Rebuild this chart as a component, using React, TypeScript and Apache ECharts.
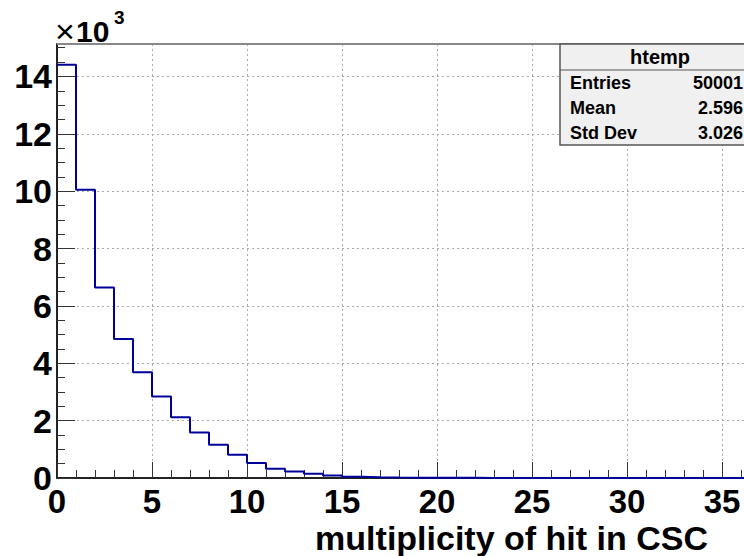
import React, { useEffect, useRef } from "react";
import * as echarts from "echarts";

// Bin contents of the multiplicity histogram (unit-wide bins starting at 0)
const counts = [
  14410, 10050, 6640, 4850, 3690, 2840, 2120, 1590, 1160, 810,
  520, 320, 230, 150, 90, 45, 22, 15, 12, 8,
  7, 5, 4, 4, 3, 2, 2, 2, 1, 1,
  0, 1, 0, 0, 0, 0, 1, 0, 0, 0,
];
const xMin = 0;
const xMax = 40;
const yMax = 15130;
const xTitle = "multiplicity of hit in CSC";
const statsName = "htemp";
const statsLabels = ["Entries", "Mean", "Std Dev"];
const statsValues = ["50001", "2.596", "3.026"];

const FONT = "Liberation Sans, Arial, Helvetica, sans-serif";

export default function App() {
  const ref = useRef<HTMLDivElement>(null);

  useEffect(() => {
    if (!ref.current) return;
    const chart = echarts.init(ref.current, null, { renderer: "svg" });

    // step outline: one point per bin low edge plus the closing edge
    const outline: number[][] = counts.map((c, i) => [xMin + i, c]);
    outline.push([xMin + counts.length, counts[counts.length - 1]]);

    const gridLeft = 57;
    const gridTop = 44;
    const gridW = 760;
    const gridH = 434;

    const rowY = [83, 108, 133];

    const txt = (
      x: number,
      y: number,
      text: string,
      size: number,
      weight: string,
      align: string,
      z: number
    ) => ({
      type: "text",
      x,
      y,
      z,
      style: {
        text,
        fontFamily: FONT,
        fontSize: size,
        fontWeight: weight,
        fill: "#000",
        align,
        verticalAlign: "middle",
      },
    });

    chart.setOption({
      animation: false,
      backgroundColor: "#ffffff",
      grid: { left: gridLeft, top: gridTop, width: gridW, height: gridH },
      xAxis: {
        type: "value",
        min: xMin,
        max: xMax,
        interval: 5,
        axisLine: { show: true, onZero: false, lineStyle: { color: "#222", width: 2 } },
        axisTick: { show: true, inside: true, length: 16, lineStyle: { color: "#333", width: 1 } },
        minorTick: { show: true, splitNumber: 5, length: 8, lineStyle: { color: "#333", width: 1 } },
        splitLine: { show: true, lineStyle: { color: "#aaa", type: [2, 3], width: 1 } },
        axisLabel: {
          margin: 7,
          color: "#000",
          fontFamily: FONT,
          fontWeight: "bold",
          fontSize: 33,
          showMaxLabel: false,
        },
      },
      yAxis: [
        {
          type: "value",
          min: 0,
          max: yMax,
          interval: 2000,
          axisLine: { show: true, lineStyle: { color: "#222", width: 2 } },
          axisTick: { show: true, inside: true, length: 18, lineStyle: { color: "#333", width: 1 } },
          splitLine: { show: true, lineStyle: { color: "#aaa", type: [2, 3], width: 1 } },
          axisLabel: {
            margin: 5,
            color: "#000",
            fontFamily: FONT,
            fontWeight: "bold",
            fontSize: 34,
            showMaxLabel: false,
            formatter: (v: number) => String(Math.round(v / 1000)),
          },
        },
        {
          type: "value",
          position: "left",
          offset: 0,
          min: 0,
          max: yMax,
          interval: 500,
          axisLine: { show: false },
          axisTick: { show: true, inside: true, length: 8, lineStyle: { color: "#333", width: 1 } },
          splitLine: { show: false },
          axisLabel: { show: false },
        },
      ],
      series: [
        {
          type: "line",
          data: outline,
          step: "end",
          symbol: "none",
          yAxisIndex: 0,
          lineStyle: { color: "#000099", width: 2 },
          z: 5,
        },
      ],
      graphic: [
        // top edge of the frame
        {
          type: "line",
          shape: { x1: gridLeft, y1: gridTop, x2: gridLeft + gridW, y2: gridTop },
          style: { stroke: "#888", lineWidth: 2 },
          z: 50,
        },
        // x10^3 exponent
        txt(55, 31, "\u00d7", 34, "normal", "left", 60),
        txt(76, 31, "10", 30, "bold", "left", 60),
        txt(114, 17, "3", 19, "bold", "left", 60),
        // axis title
        txt(708, 538, xTitle, 34, "bold", "right", 60),
        // statistics box
        {
          type: "rect",
          shape: { x: 560, y: 44, width: 204, height: 101 },
          style: { fill: "#f0f0f0", stroke: "#555", lineWidth: 1.5 },
          z: 100,
        },
        {
          type: "line",
          shape: { x1: 560, y1: 70, x2: 764, y2: 70 },
          style: { stroke: "#555", lineWidth: 1 },
          z: 101,
        },
        txt(660, 57, statsName, 20, "bold", "center", 102),
        ...statsLabels.map((label, i) => txt(570, rowY[i], label, 18, "bold", "left", 102)),
        ...statsValues.map((val, i) => txt(743, rowY[i], val, 18, "bold", "right", 102)),
      ],
    });

    return () => chart.dispose();
  }, []);

  return (
    <div
      style={{
        position: "fixed",
        left: 0,
        top: 0,
        width: 744,
        height: 556,
        overflow: "hidden",
        background: "#fff",
      }}
    >
      <div ref={ref} style={{ width: 840, height: 556 }} />
    </div>
  );
}
